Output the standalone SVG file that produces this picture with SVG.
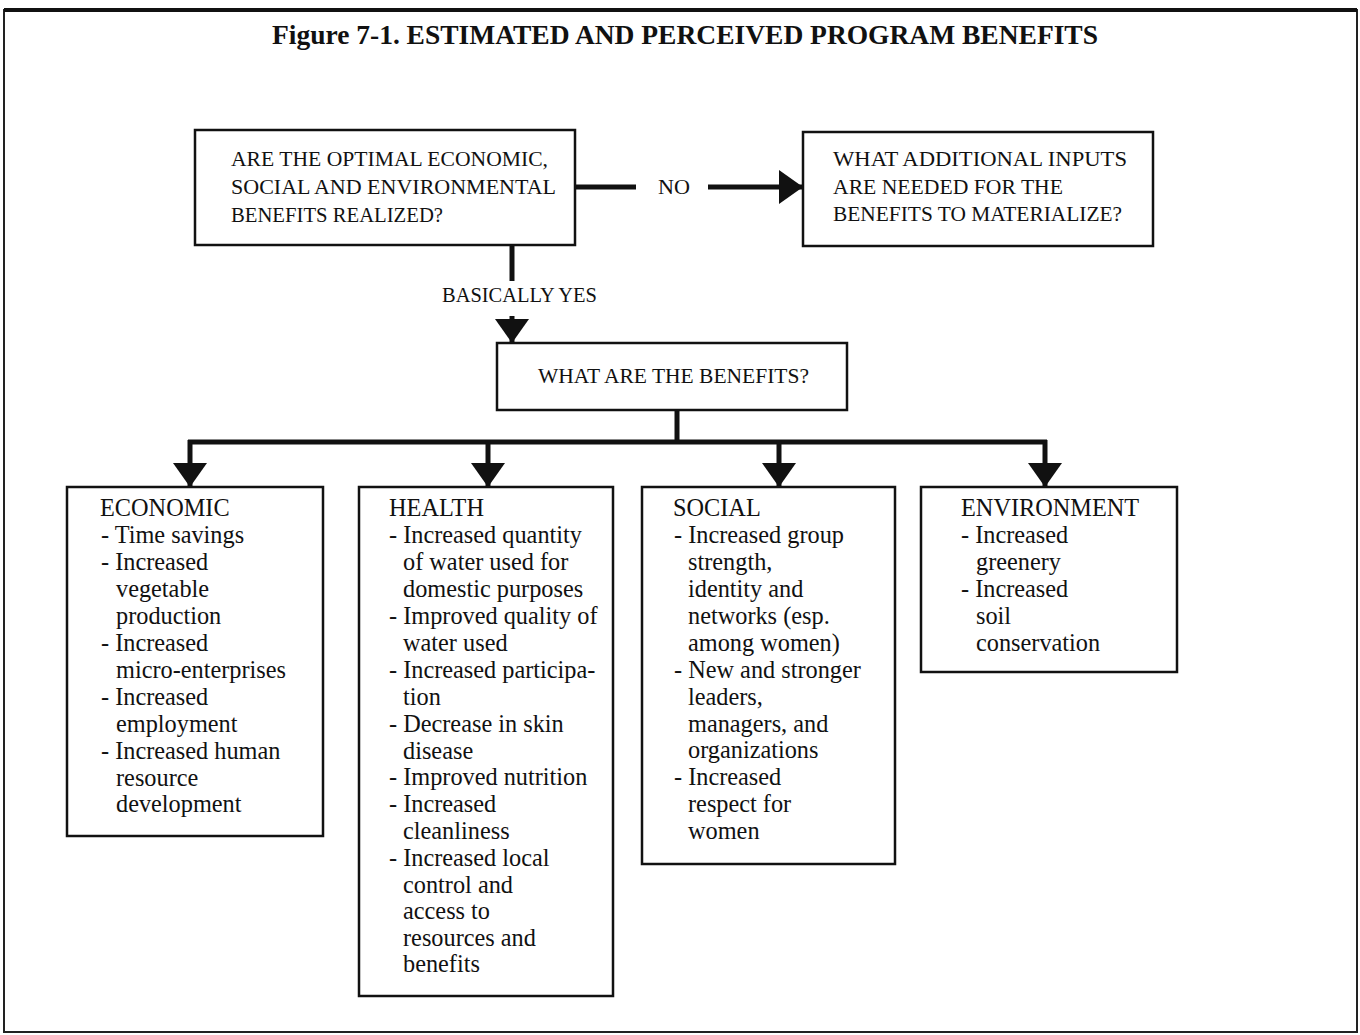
<svg xmlns="http://www.w3.org/2000/svg" width="1360" height="1035" viewBox="0 0 1360 1035">
<style>
.box{fill:#fff;stroke:#111;stroke-width:2.5}
.cap{font-family:"Liberation Serif",serif;font-size:21.5px;fill:#111}
.body{font-family:"Liberation Serif",serif;font-size:24.3px;fill:#111}
.conn{fill:none;stroke:#111;stroke-width:5}
.title{font-family:"Liberation Serif",serif;font-size:27px;font-weight:bold;fill:#111}
</style>
<defs>
<marker id="ah" markerUnits="userSpaceOnUse" markerWidth="24" markerHeight="34" viewBox="0 0 24 34" refX="24" refY="17" orient="auto">
<path d="M0,0 L24,17 L0,34 Z" fill="#111"/>
</marker>
</defs>
<rect x="0" y="0" width="1360" height="1035" fill="#fff"/>
<rect x="4" y="10" width="1353" height="1022" fill="none" stroke="#222" stroke-width="2"/>
<line x1="4" y1="10" x2="1357" y2="10" stroke="#111" stroke-width="4"/>
<text class="title" x="272" y="44" textLength="826" lengthAdjust="spacingAndGlyphs">Figure 7-1.  ESTIMATED AND PERCEIVED PROGRAM BENEFITS</text>

<g id="connectors">
<line class="conn" x1="575" y1="187" x2="636" y2="187"/>
<line class="conn" x1="708" y1="187" x2="803" y2="187" marker-end="url(#ah)"/>
<line class="conn" x1="512" y1="245" x2="512" y2="281"/>
<line class="conn" x1="512" y1="316" x2="512" y2="343" marker-end="url(#ah)"/>
<line class="conn" x1="677" y1="410" x2="677" y2="442"/>
<line class="conn" x1="188" y1="442" x2="1047" y2="442"/>
<line class="conn" x1="190" y1="440" x2="190" y2="487" marker-end="url(#ah)"/>
<line class="conn" x1="488" y1="440" x2="488" y2="487" marker-end="url(#ah)"/>
<line class="conn" x1="779" y1="440" x2="779" y2="487" marker-end="url(#ah)"/>
<line class="conn" x1="1045" y1="440" x2="1045" y2="487" marker-end="url(#ah)"/>
<text class="cap" x="658" y="194" textLength="32" lengthAdjust="spacingAndGlyphs">NO</text>
<text class="cap" x="442" y="302" textLength="155" lengthAdjust="spacingAndGlyphs">BASICALLY YES</text>
</g>

<g id="q1">
<rect class="box" x="195" y="130" width="380" height="115"/>
<text class="cap" x="231" y="166" textLength="317" lengthAdjust="spacingAndGlyphs">ARE THE OPTIMAL ECONOMIC,</text>
<text class="cap" x="231" y="194" textLength="325" lengthAdjust="spacingAndGlyphs">SOCIAL AND ENVIRONMENTAL</text>
<text class="cap" x="231" y="222" textLength="212" lengthAdjust="spacingAndGlyphs">BENEFITS REALIZED?</text>
</g>

<g id="q2">
<rect class="box" x="803" y="132" width="350" height="114"/>
<text class="cap" x="833" y="166" textLength="294" lengthAdjust="spacingAndGlyphs">WHAT ADDITIONAL INPUTS</text>
<text class="cap" x="833" y="194" textLength="230" lengthAdjust="spacingAndGlyphs">ARE NEEDED FOR THE</text>
<text class="cap" x="833" y="221" textLength="289" lengthAdjust="spacingAndGlyphs">BENEFITS TO MATERIALIZE?</text>
</g>

<g id="q3">
<rect class="box" x="497" y="343" width="350" height="67"/>
<text class="cap" x="538" y="383" textLength="271" lengthAdjust="spacingAndGlyphs">WHAT ARE THE BENEFITS?</text>
</g>

<g id="economic">
<rect class="box" x="67" y="487" width="256" height="349"/>
<text class="body" x="100" y="516">ECONOMIC</text>
<text class="body" x="101" y="543">- Time savings</text>
<text class="body" x="101" y="570">- Increased</text>
<text class="body" x="116" y="597">vegetable</text>
<text class="body" x="116" y="624">production</text>
<text class="body" x="101" y="651">- Increased</text>
<text class="body" x="116" y="678">micro-enterprises</text>
<text class="body" x="101" y="705">- Increased</text>
<text class="body" x="116" y="732">employment</text>
<text class="body" x="101" y="759">- Increased human</text>
<text class="body" x="116" y="786">resource</text>
<text class="body" x="116" y="812">development</text>
</g>

<g id="health">
<rect class="box" x="359" y="487" width="254" height="509"/>
<text class="body" x="389" y="516">HEALTH</text>
<text class="body" x="389" y="543">- Increased quantity</text>
<text class="body" x="403" y="570">of water used for</text>
<text class="body" x="403" y="597">domestic purposes</text>
<text class="body" x="389" y="624">- Improved quality of</text>
<text class="body" x="403" y="651">water used</text>
<text class="body" x="389" y="678">- Increased participa-</text>
<text class="body" x="403" y="705">tion</text>
<text class="body" x="389" y="732">- Decrease in skin</text>
<text class="body" x="403" y="759">disease</text>
<text class="body" x="389" y="785">- Improved nutrition</text>
<text class="body" x="389" y="812">- Increased</text>
<text class="body" x="403" y="839">cleanliness</text>
<text class="body" x="389" y="866">- Increased local</text>
<text class="body" x="403" y="893">control and</text>
<text class="body" x="403" y="919">access to</text>
<text class="body" x="403" y="946">resources and</text>
<text class="body" x="403" y="972">benefits</text>
</g>

<g id="social">
<rect class="box" x="642" y="487" width="253" height="377"/>
<text class="body" x="673" y="516">SOCIAL</text>
<text class="body" x="674" y="543">- Increased group</text>
<text class="body" x="688" y="570">strength,</text>
<text class="body" x="688" y="597">identity and</text>
<text class="body" x="688" y="624">networks (esp.</text>
<text class="body" x="688" y="651">among women)</text>
<text class="body" x="674" y="678">- New and stronger</text>
<text class="body" x="688" y="705">leaders,</text>
<text class="body" x="688" y="732">managers, and</text>
<text class="body" x="688" y="758">organizations</text>
<text class="body" x="674" y="785">- Increased</text>
<text class="body" x="688" y="812">respect for</text>
<text class="body" x="688" y="839">women</text>
</g>

<g id="environment">
<rect class="box" x="921" y="487" width="256" height="185"/>
<text class="body" x="961" y="516">ENVIRONMENT</text>
<text class="body" x="961" y="543">- Increased</text>
<text class="body" x="976" y="570">greenery</text>
<text class="body" x="961" y="597">- Increased</text>
<text class="body" x="976" y="624">soil</text>
<text class="body" x="976" y="651">conservation</text>
</g>
</svg>
